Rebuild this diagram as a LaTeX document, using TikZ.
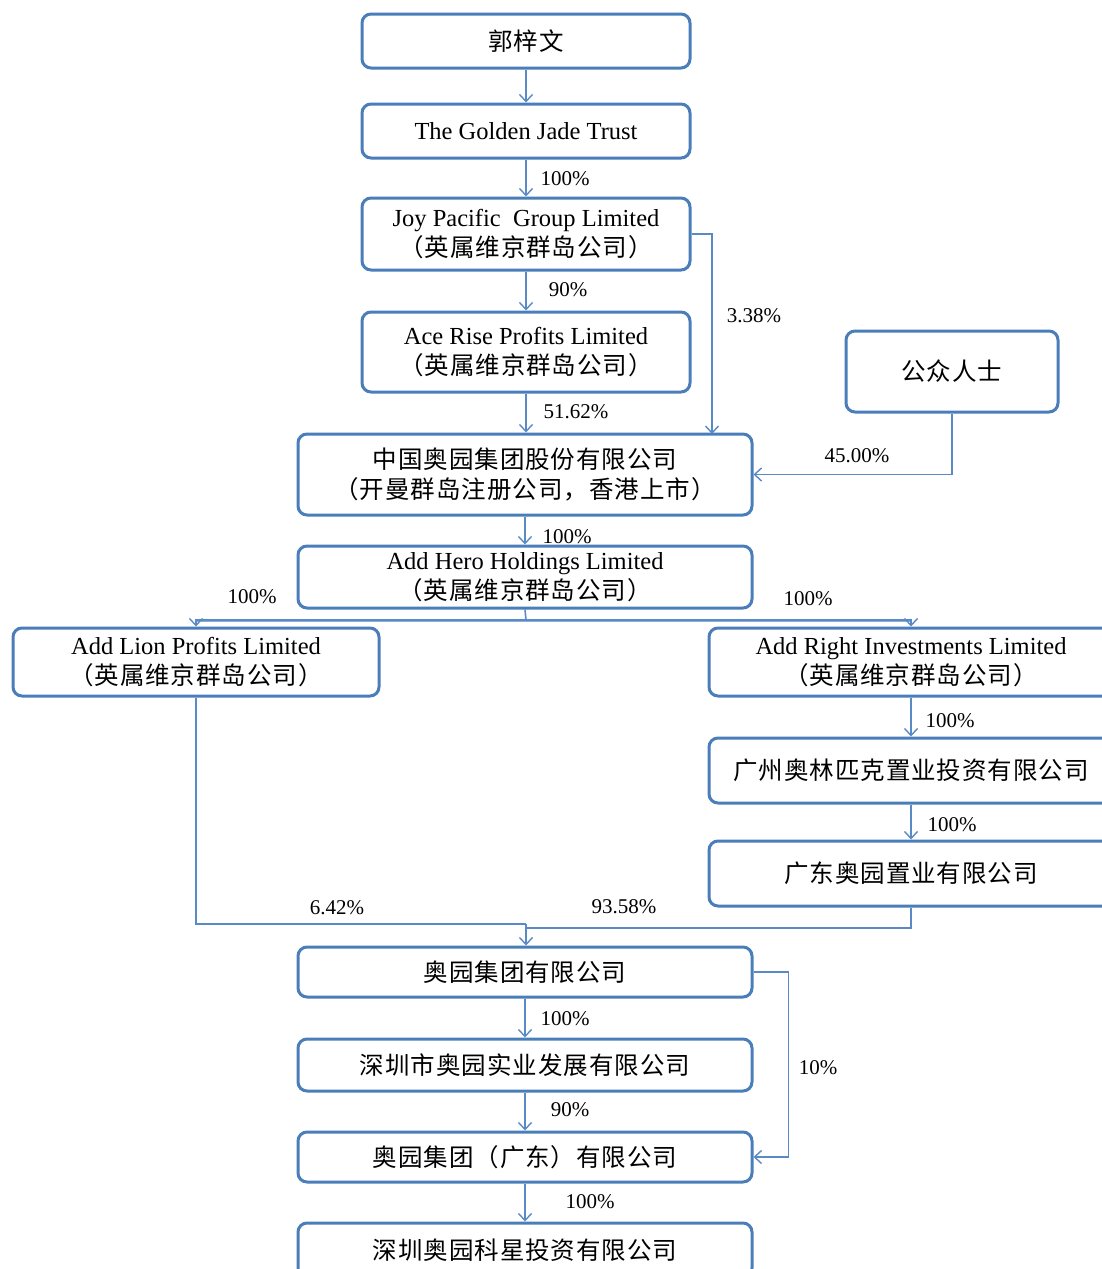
\documentclass[tikz,border=0pt]{standalone}
\usepackage{fontspec}
\setmainfont{Liberation Serif}
\newfontfamily\cjk[LetterSpace=4]{Noto Sans CJK SC}
\usetikzlibrary{arrows.meta}
\definecolor{boxblue}{HTML}{4A7EBB}
\definecolor{lineblue}{HTML}{5A8AC6}
\begin{document}
\begin{tikzpicture}[x=1pt,y=-1pt,
  box/.style={draw=boxblue, line width=3pt, rounded corners=9pt, fill=white, inner sep=0pt, align=center, font=\fontsize{24.5}{29.5}\selectfont},
  conn/.style={draw=lineblue, line width=1.6pt, -{Straight Barb[length=7pt,width=13pt,line width=1.4pt]}},
  plain/.style={draw=lineblue, line width=1.6pt},
  pct/.style={font=\fontsize{21}{24}\selectfont, inner sep=0pt}]
\useasboundingbox (0,0) rectangle (1102,1269);
\fill[white] (0,0) rectangle (1102,1269);

\node[box, minimum width=328pt, minimum height=54pt] (n1) at (526,41) {\cjk 郭梓文};
\node[box, minimum width=328pt, minimum height=54pt] (n2) at (526,131) {The Golden Jade Trust};
\node[box, minimum width=328pt, minimum height=72pt] (n3) at (526,234) {Joy Pacific\ \ Group Limited\\{\cjk （英属维京群岛公司）}};
\node[box, minimum width=328pt, minimum height=80pt] (n4) at (526,352) {Ace Rise Profits Limited\\{\cjk （英属维京群岛公司）}};
\node[box, minimum width=212pt, minimum height=81pt] (n5) at (952,371.5) {\cjk 公众人士};
\node[box, minimum width=454pt, minimum height=81pt] (n6) at (525,474.5) {\cjk 中国奥园集团股份有限公司\\\cjk （开曼群岛注册公司，香港上市）};
\node[box, minimum width=454pt, minimum height=62pt] (n7) at (525,577) {Add Hero Holdings Limited\\{\cjk （英属维京群岛公司）}};
\node[box, minimum width=366pt, minimum height=68pt] (n8) at (196,662) {Add Lion Profits Limited\\{\cjk （英属维京群岛公司）}};
\node[box, minimum width=404pt, minimum height=68pt] (n9) at (911,662) {Add Right Investments Limited\\{\cjk （英属维京群岛公司）}};
\node[box, minimum width=404pt, minimum height=65pt] (n10) at (911,770.5) {\cjk 广州奥林匹克置业投资有限公司};
\node[box, minimum width=404pt, minimum height=65pt] (n11) at (911,873.5) {\cjk 广东奥园置业有限公司};
\node[box, minimum width=454pt, minimum height=50pt] (n12) at (525,972) {\cjk 奥园集团有限公司};
\node[box, minimum width=454pt, minimum height=52pt] (n13) at (525,1065) {\cjk 深圳市奥园实业发展有限公司};
\node[box, minimum width=454pt, minimum height=50pt] (n14) at (525,1157) {\cjk 奥园集团（广东）有限公司};
\node[box, minimum width=454pt, minimum height=54pt] (n15) at (525,1250) {\cjk 深圳奥园科星投资有限公司};

\coordinate (t338) at (712,434);
\coordinate (br) at (526,620);
\coordinate (m1) at (526,924);
\coordinate (m2) at (526,928);

\draw[conn] (n1) -- (n2);
\draw[conn] (n2) -- (n3);
\draw[conn] (n3) -- (n4);
\draw[conn] (n3.east) -| (t338);
\draw[conn] (n4.south) -- (n4.south |- n6.north);
\draw[conn] (n5.south) |- (n6.east);
\draw[conn] (n6) -- (n7);
\draw[plain] (n7.south) -- (br);
\draw[plain, line width=3pt, draw=lineblue!70] (br -| n8.north) -- (br -| n9.north);
\draw[conn] (br) -| (n8.north);
\draw[conn] (br) -| (n9.north);
\draw[conn] (n9) -- (n10);
\draw[conn] (n10) -- (n11);
\draw[plain] (n8.south) |- (m1);
\draw[plain] (n11.south) |- (m2);
\draw[conn] (m1) -- (m1 |- n12.north);
\draw[conn] (n12) -- (n13);
\draw[conn] (n13) -- (n14);
\draw[conn] (n12.east) -- ++(35,0) |- (n14.east);
\draw[conn] (n14) -- (n15);

\node[pct] (l1) at (565,179) {100\%};
\node[pct] (l2) at (568,290) {90\%};
\node[pct] (l3) at (754,316) {3.38\%};
\node[pct] (l4) at (576,412) {51.62\%};
\node[pct] (l5) at (857,456) {45.00\%};
\node[pct] (l6) at (567,537) {100\%};
\node[pct] (l7) at (252,597) {100\%};
\node[pct] (l8) at (808,599) {100\%};
\node[pct] (l9) at (950,721) {100\%};
\node[pct] (l10) at (952,825) {100\%};
\node[pct] (l11) at (337,908) {6.42\%};
\node[pct] (l12) at (624,907) {93.58\%};
\node[pct] (l13) at (565,1019) {100\%};
\node[pct] (l14) at (818,1068) {10\%};
\node[pct] (l15) at (570,1110) {90\%};
\node[pct] (l16) at (590,1202) {100\%};
\end{tikzpicture}
\end{document}
